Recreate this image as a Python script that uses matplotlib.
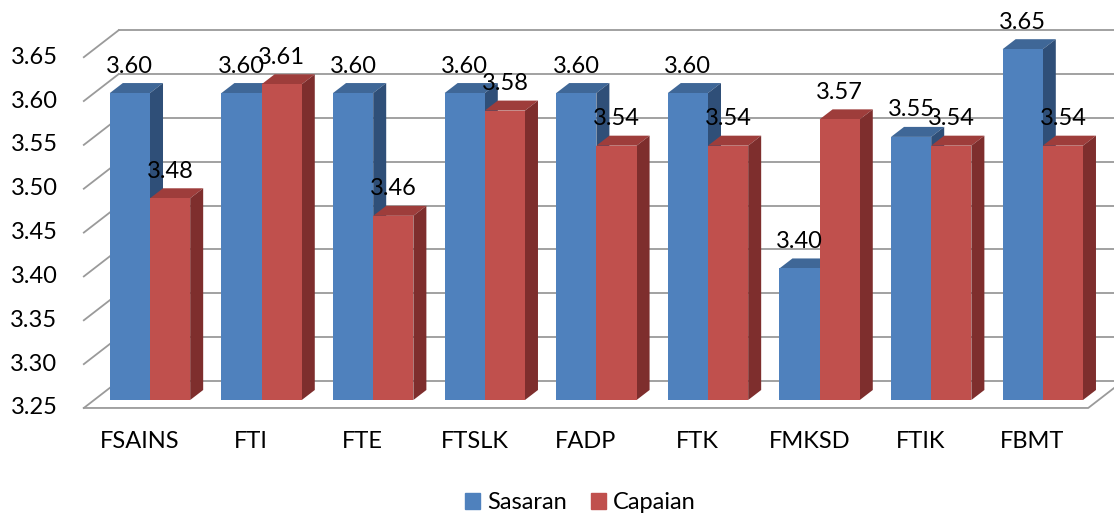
import matplotlib.pyplot as plt
from matplotlib.patches import Polygon, Patch

plt.rcParams['font.family'] = ['Lato', 'DejaVu Sans']

# Data
categories = ["FSAINS", "FTI", "FTE", "FTSLK", "FADP", "FTK", "FMKSD", "FTIK", "FBMT"]
sasaran = [3.60, 3.60, 3.60, 3.60, 3.60, 3.60, 3.40, 3.55, 3.65]
capaian = [3.48, 3.61, 3.46, 3.58, 3.54, 3.54, 3.57, 3.54, 3.54]
yticks = [3.25, 3.30, 3.35, 3.40, 3.45, 3.50, 3.55, 3.60, 3.65]
series_names = ["Sasaran", "Capaian"]

base = 3.25
width = 0.36
fs = 17

# colours: front, top, side
blue = ("#4F81BD", "#3F6797", "#2F4F78")
red = ("#C0504D", "#9E3D3B", "#7E2E2D")

# oblique 3D offsets (data units) relative to the bar plane
front_off = (-0.093, -0.0091)
back_off = (0.220, 0.0217)
bar_depth = (0.1165, 0.0114)
grid_col = "#9A9A9A"

fig = plt.figure(figsize=(11.14, 5.14), dpi=100)
ax = fig.add_axes([0, 0, 1, 1])
ax.set_xlim(-1.3441, 8.638)
ax.set_ylim(3.1200, 3.7061)
ax.axis("off")

xlo, xhi = -0.5, len(categories) - 0.5

# walls: back gridlines + left-wall diagonals + floor
for t in yticks:
    ax.plot([xlo + back_off[0], xhi + back_off[0]], [t + back_off[1]] * 2,
            color=grid_col, lw=1.3, zorder=1)
    ax.plot([xlo + front_off[0], xlo + back_off[0]], [t + front_off[1], t + back_off[1]],
            color=grid_col, lw=1.3, zorder=1)
    ax.annotate(f"{t:.2f}", (xlo + front_off[0], t + front_off[1]), xytext=(-19, 0),
                textcoords="offset points", ha="right", va="center", fontsize=fs)
ax.plot([xlo + front_off[0], xhi + front_off[0], xhi + back_off[0]],
        [base + front_off[1], base + front_off[1], base + back_off[1]],
        color=grid_col, lw=1.3, zorder=1)


def draw_bar(x0, v, cols, z):
    x1 = x0 + width
    dx, dv = bar_depth
    ax.bar(x0, v - base, width=width, bottom=base, align="edge", color=cols[0],
           zorder=z + 0.2, lw=0)
    ax.add_patch(Polygon([(x0, v), (x1, v), (x1 + dx, v + dv), (x0 + dx, v + dv)],
                         closed=True, color=cols[1], lw=0, zorder=z))
    ax.add_patch(Polygon([(x1, base), (x1, v), (x1 + dx, v + dv), (x1 + dx, base + dv)],
                         closed=True, color=cols[2], lw=0, zorder=z))


for i in range(len(categories)):
    draw_bar(i - width, sasaran[i], blue, 2)
    draw_bar(i, capaian[i], red, 3)

# data labels
for i in range(len(categories)):
    ax.text(i - width / 2, sasaran[i] + 0.0308, f"{sasaran[i]:.2f}", ha="center",
            va="center", fontsize=fs, zorder=10)
    ax.text(i + width / 2, capaian[i] + 0.0308, f"{capaian[i]:.2f}", ha="center",
            va="center", fontsize=fs, zorder=10)

# category labels on the front edge
for i, c in enumerate(categories):
    ax.text(i + front_off[0], 3.2021, c, ha="center", va="center", fontsize=fs)

handles = [Patch(color=blue[0]), Patch(color=red[0])]
fig.legend(handles, series_names, loc="center", bbox_to_anchor=(0.521, 0.022), ncol=2,
           frameon=False, fontsize=fs, handlelength=0.65, handleheight=0.65,
           handletextpad=0.3, columnspacing=1.0)

plt.savefig("out.png", dpi=100)
